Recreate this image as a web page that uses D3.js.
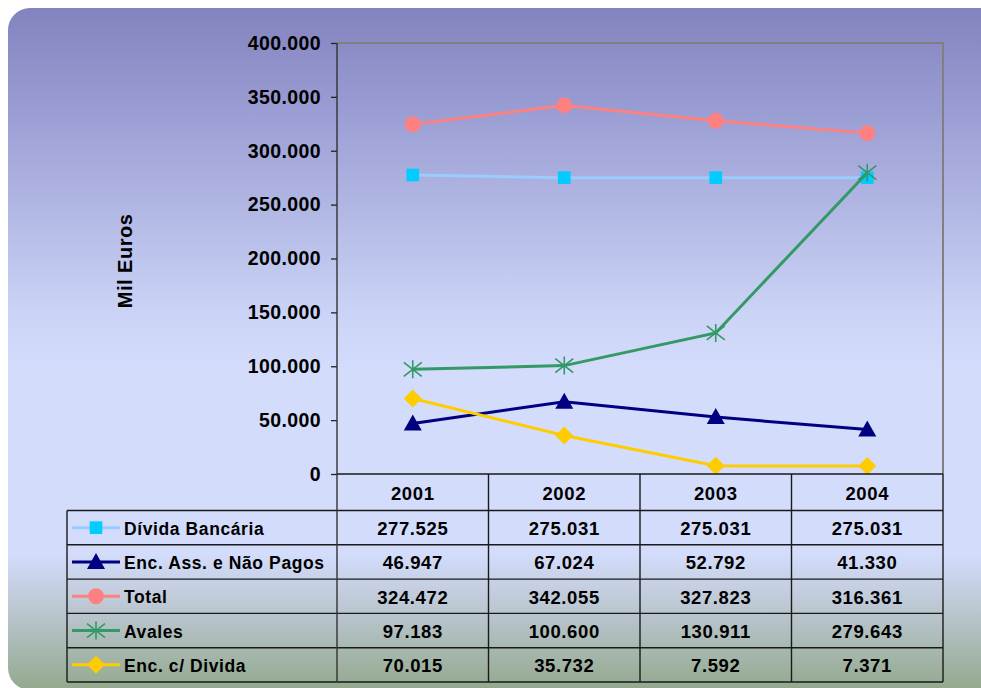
<!DOCTYPE html>
<html>
<head>
<meta charset="utf-8">
<script src="https://cdn.jsdelivr.net/npm/d3@7"></script>
<style>
  body { margin: 0; background: #fff; }
  svg { display: block; font-family: "Liberation Sans", Arial, sans-serif; }
</style>
</head>
<body>
<div id="chart"></div>
<script>
const YEARS = ["2001", "2002", "2003", "2004"];
const SERIES_NAMES = ["Dívida Bancária", "Enc. Ass. e Não Pagos", "Total", "Avales", "Enc. c/ Divida"];
const DIVIDA_BANCARIA = [277525, 275031, 275031, 275031];
const ENC_ASS = [46947, 67024, 52792, 41330];
const TOTAL = [324472, 342055, 327823, 316361];
const AVALES = [97183, 100600, 130911, 279643];
const ENC_DIVIDA = [70015, 35732, 7592, 7371];
const Y_TICKS = [0, 50000, 100000, 150000, 200000, 250000, 300000, 350000, 400000];

const W = 981, H = 688;
const PLOT = { LEFT: 337, RIGHT: 943, TOP: 43, BOTTOM: 474 };
const TABLE = { LEFT: 67, HEADER_BOTTOM: 510.5, ROW_H: 34.3 };

const locale = d3.formatLocale({ decimal: ",", thousands: ".", grouping: [3], currency: ["", "€"] });
const fmt = locale.format(",");

const series = [
    { name: SERIES_NAMES[0], values: DIVIDA_BANCARIA, line: "#99ccff", fill: "#00ccff", shape: "square" },
    { name: SERIES_NAMES[1], values: ENC_ASS, line: "#000080", fill: "#000080", shape: "triangle" },
    { name: SERIES_NAMES[2], values: TOTAL, line: "#ff8080", fill: "#ff8080", shape: "circle" },
    { name: SERIES_NAMES[3], values: AVALES, line: "#339966", fill: "#339966", shape: "star" },
    { name: SERIES_NAMES[4], values: ENC_DIVIDA, line: "#ffcc00", fill: "#ffcc00", shape: "diamond" }
];

const svg = d3.select("#chart").append("svg")
    .attr("width", W)
    .attr("height", H);

// background panel
const grad = svg.append("defs").append("linearGradient")
    .attr("id", "bg")
    .attr("gradientUnits", "userSpaceOnUse")
    .attr("x1", 0).attr("y1", 8).attr("x2", 0).attr("y2", 690);
[[0, "#8383be"], [0.15, "#9a9dd3"], [0.45, "#cbd4f6"], [0.53, "#d3dcfb"],
 [0.8, "#d3dcfb"], [0.88, "#bcc7d2"], [1, "#93a98d"]].forEach(([o, c]) =>
    grad.append("stop").attr("offset", o).attr("stop-color", c));

svg.append("rect")
    .attr("x", 8).attr("y", 8)
    .attr("width", 1000).attr("height", 682)
    .attr("rx", 22)
    .attr("fill", "url(#bg)");

const x = d3.scaleBand()
    .domain(YEARS)
    .range([PLOT.LEFT, PLOT.RIGHT]);

const y = d3.scaleLinear()
    .domain([0, 400000])
    .range([PLOT.BOTTOM, PLOT.TOP]);

const cx = d => x(d) + x.bandwidth() / 2;

// plot frame (top + right, grey)
svg.append("path")
    .attr("d", `M${PLOT.LEFT},${PLOT.TOP}H${PLOT.RIGHT}V${PLOT.BOTTOM}`)
    .attr("fill", "none")
    .attr("stroke", "#808080")
    .attr("stroke-width", 2);

// y axis
const yAxis = svg.append("g")
    .attr("transform", `translate(${PLOT.LEFT},0)`)
    .call(d3.axisLeft(y).tickValues(Y_TICKS).tickFormat(fmt).tickSize(6).tickPadding(10));
yAxis.select(".domain").remove();
yAxis.selectAll(".tick line").attr("stroke", "#222").attr("stroke-width", 1.3);
yAxis.selectAll(".tick text")
    .attr("fill", "#000")
    .style("font-size", "19.5px")
    .style("font-weight", "bold")
    .style("letter-spacing", "0.4px");

svg.append("text")
    .attr("transform", `translate(132,${261}) rotate(-90)`)
    .attr("text-anchor", "middle")
    .style("font-size", "20px")
    .style("font-weight", "bold")
    .style("letter-spacing", "0.5px")
    .text("Mil Euros");

// lines
const line = d3.line()
    .x((d, i) => cx(YEARS[i]))
    .y(d => y(d));

const symbolPath = (shape) => {
    if (shape === "square") return d3.symbol(d3.symbolSquare, 160)();
    if (shape === "triangle") return "M0,-9L9,7L-9,7Z";
    if (shape === "circle") return d3.symbol(d3.symbolCircle, 200)();
    if (shape === "diamond") return "M0,-9L9,0L0,9L-9,0Z";
    return "M0,-9V9M-9,-7L9,7M-9,7L9,-7";
};

const drawMarker = (g, s) => {
    if (s.shape === "star") {
        g.append("path").attr("d", symbolPath(s.shape))
            .attr("fill", "none").attr("stroke", s.fill).attr("stroke-width", 1.6);
    } else {
        g.append("path").attr("d", symbolPath(s.shape)).attr("fill", s.fill);
    }
};

series.forEach(s => {
    svg.append("path")
        .datum(s.values)
        .attr("d", line)
        .attr("fill", "none")
        .attr("stroke", s.line)
        .attr("stroke-width", 3);
    svg.append("g").selectAll("g")
        .data(s.values)
        .join("g")
        .attr("transform", (d, i) => `translate(${cx(YEARS[i])},${y(d)})`)
        .each(function () { drawMarker(d3.select(this), s); });
});

// data table
const rowY = i => TABLE.HEADER_BOTTOM + i * TABLE.ROW_H;
const tableBottom = rowY(series.length);
const grid = svg.append("g")
    .attr("stroke", "#1a1a1a")
    .attr("stroke-width", 1.4)
    .attr("fill", "none");

// header row
grid.append("line").attr("x1", PLOT.LEFT).attr("x2", PLOT.RIGHT).attr("y1", PLOT.BOTTOM).attr("y2", PLOT.BOTTOM);
// horizontal row lines
grid.selectAll("line.row")
    .data(d3.range(series.length + 1))
    .join("line")
    .attr("class", "row")
    .attr("x1", TABLE.LEFT).attr("x2", PLOT.RIGHT)
    .attr("y1", rowY).attr("y2", rowY);
// vertical lines
grid.append("line").attr("x1", TABLE.LEFT).attr("x2", TABLE.LEFT).attr("y1", rowY(0)).attr("y2", tableBottom);
grid.append("line").attr("x1", PLOT.LEFT).attr("x2", PLOT.LEFT).attr("y1", PLOT.TOP).attr("y2", tableBottom)
    .attr("stroke", "#333");
grid.selectAll("line.col")
    .data(YEARS)
    .join("line")
    .attr("class", "col")
    .attr("x1", d => x(d) + x.bandwidth()).attr("x2", d => x(d) + x.bandwidth())
    .attr("y1", PLOT.BOTTOM).attr("y2", tableBottom);

const cellText = (sel) => sel
    .attr("text-anchor", "middle")
    .attr("dominant-baseline", "central")
    .style("font-size", "18.5px")
    .style("font-weight", "bold")
    .style("letter-spacing", "0.6px");

svg.append("g").selectAll("text")
    .data(YEARS)
    .join("text")
    .attr("x", cx)
    .attr("y", (PLOT.BOTTOM + rowY(0)) / 2 + 1)
    .call(cellText)
    .text(d => d);

series.forEach((s, r) => {
    const ym = rowY(r) + TABLE.ROW_H / 2;
    svg.append("g").selectAll("text")
        .data(s.values)
        .join("text")
        .attr("x", (d, i) => cx(YEARS[i]))
        .attr("y", ym + 1)
        .call(cellText)
        .text(d => fmt(d));

    const key = svg.append("g");
    key.append("line")
        .attr("x1", 72).attr("x2", 120)
        .attr("y1", ym).attr("y2", ym)
        .attr("stroke", s.line)
        .attr("stroke-width", 3);
    drawMarker(key.append("g").attr("transform", `translate(96,${ym})`), s);
    key.append("text")
        .attr("x", 124)
        .attr("y", ym + 1)
        .attr("dominant-baseline", "central")
        .style("font-size", "17.5px")
        .style("font-weight", "bold")
        .style("letter-spacing", "0.6px")
        .text(s.name);
});
</script>
</body>
</html>
